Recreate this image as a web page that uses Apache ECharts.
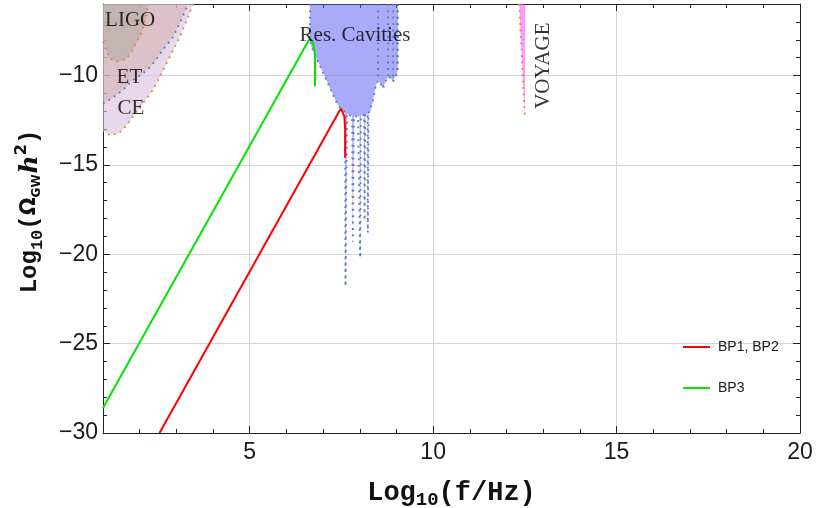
<!DOCTYPE html>
<html>
<head>
<meta charset="utf-8">
<script src="https://cdn.jsdelivr.net/npm/echarts@6/dist/echarts.min.js"></script>
<style>
  html, body { margin: 0; padding: 0; background: #fff; }
  #main { width: 817px; height: 508px; }
</style>
</head>
<body>
<div id="main"></div>
<script>
// benchmark spectra, log10(f/Hz) vs log10(Omega_GW h^2)
const bp12X = [2.54, 7.44, 7.49, 7.54, 7.58, 7.60, 7.60];
const bp12Y = [-30.0, -12.0, -11.85, -11.9, -12.3, -13.0, -14.6];
const bp3X = [1.0, 6.60, 6.66, 6.71, 6.76, 6.78, 6.78];
const bp3Y = [-28.6, -8.05, -7.98, -8.1, -8.5, -9.0, -10.6];

// detector sensitivity curves
const ligoX = [1.0, 1.07, 1.17, 1.30, 1.45, 1.64, 1.80, 1.94, 2.08, 2.19, 2.22];
const ligoY = [-8.1, -8.5, -9.0, -9.17, -9.22, -9.05, -8.6, -8.04, -7.48, -6.53, -6.0];
const etX = [1.0, 1.27, 1.55, 1.80, 2.05, 2.27, 2.45, 2.62, 2.90, 3.09, 3.28, 3.31];
const etY = [-11.57, -11.23, -10.8, -10.28, -9.95, -9.55, -9.1, -8.60, -7.87, -7.09, -6.17, -6.0];
const ceX = [1.0, 1.19, 1.45, 1.62, 1.80, 2.08, 2.35, 2.54, 2.81, 3.09, 3.28, 3.44, 3.45];
const ceY = [-13.05, -13.35, -13.2, -12.85, -12.35, -11.57, -10.84, -10.11, -8.99, -7.87, -6.92, -6.06, -6.0];

const resX = [6.64, 6.64, 6.69, 7.38, 7.46, 7.54, 7.60, 7.61, 7.65, 7.73, 7.79, 7.81, 7.84, 7.87, 7.95, 7.99, 8.01, 8.03,
  8.06, 8.12, 8.13, 8.15, 8.18, 8.21, 8.22, 8.24, 8.28, 8.36, 8.44, 8.50, 8.58, 8.63, 8.69, 8.77, 8.85, 8.91, 8.96, 9.02, 9.04, 9.04];
const resY = [-6.0, -8.04, -8.44, -11.56, -11.79, -11.96, -12.05, -21.8, -12.12, -12.23, -12.25, -19.3, -12.27, -12.29, -12.29, -12.27, -20.2, -12.25,
  -12.23, -12.2, -18.1, -12.18, -12.15, -12.12, -18.8, -12.1, -12.07, -11.40, -10.56, -10.28, -10.50, -10.73, -10.39, -10.06, -10.17, -10.34, -10.06, -9.94, -9.5, -6.0];
const resTipX = [8.50, 8.77, 8.91, 9.02];
const resTipY = [-10.28, -10.06, -10.34, -9.94];

const voyX = [12.35, 12.38, 12.42, 12.45, 12.48, 12.50];
const voyY = [-6.0, -7.5, -9.0, -10.3, -11.5, -12.3];

// text labels on the plot
const noteNames = ['LIGO', 'ET', 'CE', 'Res. Cavities', 'VOYAGE'];
const noteX = [1.74, 1.72, 1.76, 7.87, 13.02];
const noteY = [-6.9, -10.1, -11.85, -7.75, -9.45];

// axes
const xMin = 1, xMax = 20, yMin = -30, yMax = -6;
const xLabels = [5, 10, 15, 20];
const xMajor = [5, 10, 15];
const xMinor = [2, 3, 4, 6, 7, 8, 9, 11, 12, 13, 14, 16, 17, 18, 19];
const yLabels = [-30, -25, -20, -15, -10];
const yMajor = [-25, -20, -15, -10];
const yMinor = [-29, -28, -27, -26, -24, -23, -22, -21, -19, -18, -17, -16, -14, -13, -12, -11, -9, -8, -7];

const pts = (xs, ys) => xs.map((x, i) => [x, ys[i]]);
const fmt = v => String(v).replace('-', '\u2212');
const frame = '#222';
const orange = 'rgb(228,132,48)';
const blue = 'rgb(88,120,190)';

function region(data, fill) {
  return {
    type: 'custom', silent: true, clip: true, z: 1,
    data: data,
    renderItem: function (params, api) {
      if (params.dataIndex !== 0) return null;
      return {
        type: 'polygon',
        shape: { points: data.map(p => api.coord(p)) },
        style: { fill: fill }
      };
    }
  };
}

function dotted(data, color) {
  return {
    type: 'line', data: data, symbol: 'none', silent: true, z: 3,
    connectNulls: false,
    lineStyle: { color: color, width: 1.8, type: [1.8, 4.6] }
  };
}

// vertical dotted lines from the top down to each tip
const tipLines = [];
resTipX.forEach((x, i) => { tipLines.push([x, yMax], [x, resTipY[i]], '-'); });

const regionSeries = [
  region(pts(ceX, ceY).concat([[xMin, yMax]]), 'rgba(217,190,222,0.6)'),
  region(pts(etX, etY).concat([[xMin, yMax]]), 'rgba(210,170,168,0.5)'),
  region(pts(ligoX, ligoY).concat([[xMin, yMax]]), 'rgba(168,170,160,0.5)'),
  region(pts(resX, resY), 'rgba(85,85,245,0.5)'),
  region(pts(voyX, voyY).concat([[12.51, yMax]]), 'rgba(255,70,255,0.55)'),
  dotted(pts(ceX, ceY), orange),
  dotted(pts(etX, etY), blue),
  dotted(pts(ligoX, ligoY), orange),
  dotted(pts(resX, resY), blue),
  dotted(tipLines, blue),
  dotted(pts(voyX, voyY), orange)
];

const mono = 'Liberation Mono';
const tickFont = { fontFamily: 'Liberation Sans', fontSize: 23, color: '#1a1a1a' };

function axisBase(extra) {
  return Object.assign({
    type: 'value',
    axisLine: { show: false, onZero: false, lineStyle: { color: frame, width: 1 } },
    axisTick: { show: false },
    axisLabel: { show: false },
    splitLine: { show: false }
  }, extra);
}
function ticks(values, len) {
  return { show: true, inside: true, length: len, customValues: values, lineStyle: { color: frame } };
}

const chart = echarts.init(document.getElementById('main'));
chart.setOption({
  animation: false,
  backgroundColor: '#fff',
  grid: [
    { left: 103, right: 17, top: 4, bottom: 75, containLabel: false, outerBoundsMode: 'none' },
    { left: 103, right: 17, top: 4, bottom: 75, containLabel: false, outerBoundsMode: 'none' }
  ],
  legend: {
    data: ['BP1, BP2', 'BP3'],
    orient: 'vertical',
    left: 683, top: 340, padding: 0,
    icon: 'rect',
    itemWidth: 27, itemHeight: 2, itemGap: 27,
    textStyle: { fontFamily: 'Liberation Sans', fontSize: 14, lineHeight: 14, color: '#1a1a1a', padding: [0, 0, 0, 3] }
  },
  xAxis: [
    axisBase({
      gridIndex: 0, position: 'bottom', min: xMin, max: xMax, minInterval: 5, maxInterval: 5,
      axisLine: { show: true, onZero: false, lineStyle: { color: frame } },
      axisTick: ticks(xMajor, 7),
      axisLabel: Object.assign({ show: true, customValues: xLabels, formatter: fmt, margin: 8 }, tickFont),
      splitLine: { show: true, lineStyle: { color: '#d4d4d4' } },
      name: '{a|Log}{s|10}{a|(f/Hz)}',
      nameLocation: 'middle', nameGap: 43,
      nameTextStyle: {
        rich: {
          a: { fontFamily: mono, fontWeight: 'bold', fontSize: 27, lineHeight: 34, color: '#111', verticalAlign: 'middle' },
          s: { fontFamily: mono, fontWeight: 'bold', fontSize: 19, lineHeight: 34, color: '#111', verticalAlign: 'bottom' }
        }
      }
    }),
    axisBase({
      gridIndex: 0, position: 'top', min: xMin, max: xMax, minInterval: 5, maxInterval: 5,
      axisLine: { show: true, onZero: false, lineStyle: { color: frame } },
      axisTick: ticks(xMajor, 7)
    }),
    axisBase({ gridIndex: 1, position: 'bottom', min: xMin, max: xMax, minInterval: 5, maxInterval: 5, axisTick: ticks(xMinor, 4) }),
    axisBase({ gridIndex: 1, position: 'top', min: xMin, max: xMax, minInterval: 5, maxInterval: 5, axisTick: ticks(xMinor, 4) })
  ],
  yAxis: [
    axisBase({
      gridIndex: 0, position: 'left', min: yMin, max: yMax, interval: 5,
      axisLine: { show: true, onZero: false, lineStyle: { color: frame } },
      axisTick: ticks(yMajor, 7),
      axisLabel: Object.assign({ show: true, customValues: yLabels, formatter: fmt, margin: 5 }, tickFont),
      splitLine: { show: true, lineStyle: { color: '#d4d4d4' } },
      name: '{a|Log}{s|10}{a|(}{o|\u03A9}{g|GW}{h|h}{p|2}{a|)}',
      nameLocation: 'middle', nameRotate: 90, nameGap: 57,
      nameTextStyle: {
        padding: [0, 0, 0, 14],
        rich: {
          a: { fontFamily: mono, fontWeight: 'bold', fontSize: 24, lineHeight: 32, color: '#111', verticalAlign: 'middle' },
          s: { fontFamily: mono, fontWeight: 'bold', fontSize: 17, lineHeight: 32, color: '#111', verticalAlign: 'bottom' },
          o: { fontFamily: 'DejaVu Sans', fontWeight: 'bold', fontSize: 21, lineHeight: 32, color: '#111', verticalAlign: 'middle' },
          g: { fontFamily: 'DejaVu Sans', fontWeight: 'bold', fontSize: 12, lineHeight: 32, color: '#111', verticalAlign: 'bottom', padding: [0, 1, 3, 0] },
          h: { fontFamily: 'DejaVu Serif', fontWeight: 'bold', fontStyle: 'italic', fontSize: 25, lineHeight: 32, color: '#111', verticalAlign: 'middle' },
          p: { fontFamily: 'DejaVu Sans', fontWeight: 'bold', fontSize: 16, lineHeight: 32, color: '#111', verticalAlign: 'top' }
        }
      }
    }),
    axisBase({
      gridIndex: 0, position: 'right', min: yMin, max: yMax, interval: 5,
      axisLine: { show: true, onZero: false, lineStyle: { color: frame } },
      axisTick: ticks(yMajor, 7)
    }),
    axisBase({ gridIndex: 1, position: 'left', min: yMin, max: yMax, interval: 5, axisTick: ticks(yMinor, 4) }),
    axisBase({ gridIndex: 1, position: 'right', min: yMin, max: yMax, interval: 5, axisTick: ticks(yMinor, 4) })
  ],
  series: regionSeries.concat([
    {
      name: 'BP1, BP2', type: 'line', data: pts(bp12X, bp12Y), symbol: 'none', z: 5,
      color: '#ff0000', lineStyle: { color: '#ff0000', width: 2 }
    },
    {
      name: 'BP3', type: 'line', data: pts(bp3X, bp3Y), symbol: 'none', z: 5,
      color: '#00e600', lineStyle: { color: '#00e600', width: 2 }
    },
    {
      type: 'scatter', silent: true, z: 6, symbolSize: 1,
      itemStyle: { color: 'transparent' },
      data: noteNames.map((n, i) => ({
        name: n, value: [noteX[i], noteY[i]],
        label: { rotate: n === 'VOYAGE' ? 90 : 0 }
      })),
      label: {
        show: true, position: 'inside', formatter: '{b}',
        fontFamily: 'Liberation Serif', fontSize: 21, color: '#000'
      }
    }
  ])
});
</script>
</body>
</html>
